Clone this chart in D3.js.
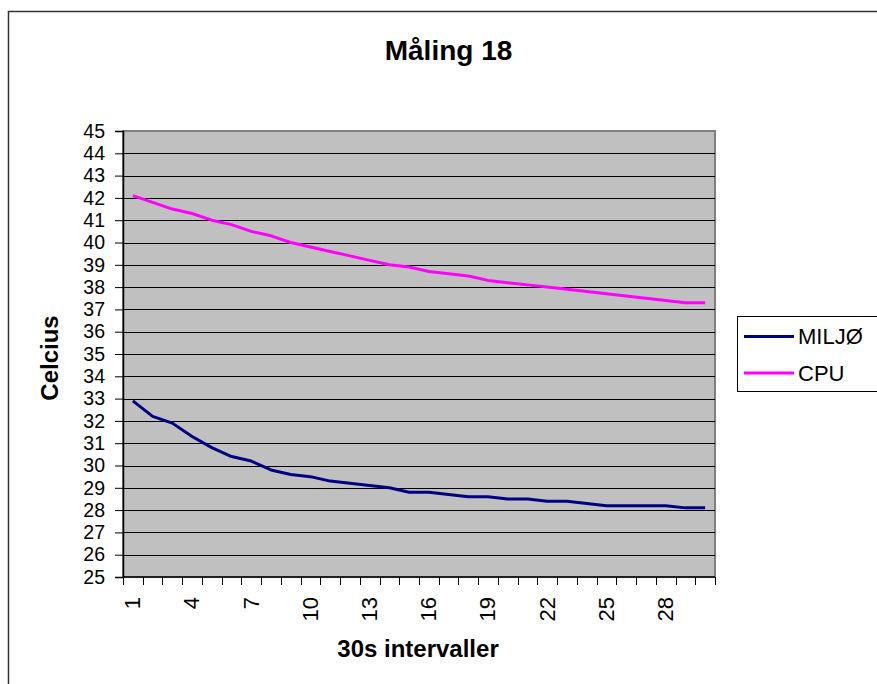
<!DOCTYPE html>
<html>
<head>
<meta charset="utf-8">
<script src="https://cdn.jsdelivr.net/npm/d3@7"></script>
<style>
  html, body { margin: 0; padding: 0; background: #fff; }
  svg { display: block; font-family: Arial, "Liberation Sans", sans-serif; }
</style>
</head>
<body>
<svg id="chart" width="877" height="684"></svg>
<script>
const categories = d3.range(1, 31);
const tickLabels = [1, 4, 7, 10, 13, 16, 19, 22, 25, 28];
const yTicks = d3.range(25, 46);
const miljo = [32.9, 32.2, 31.9, 31.3, 30.8, 30.4, 30.2, 29.8, 29.6, 29.5,
               29.3, 29.2, 29.1, 29.0, 28.8, 28.8, 28.7, 28.6, 28.6, 28.5,
               28.5, 28.4, 28.4, 28.3, 28.2, 28.2, 28.2, 28.2, 28.1, 28.1];
const cpu = [42.1, 41.8, 41.5, 41.3, 41.0, 40.8, 40.5, 40.3, 40.0, 39.8,
             39.6, 39.4, 39.2, 39.0, 38.9, 38.7, 38.6, 38.5, 38.3, 38.2,
             38.1, 38.0, 37.9, 37.8, 37.7, 37.6, 37.5, 37.4, 37.3, 37.3];
const seriesNames = ["MILJØ", "CPU"];
const seriesColors = ["#000080", "#FF00FF"];

const svg = d3.select("#chart");
const L = 123, R = 715, T = 131, B = 577;

// outer border
svg.append("rect").attr("x", 8.5).attr("y", 11.5).attr("width", 900).attr("height", 700)
  .attr("fill", "#fff").attr("stroke", "#333").attr("stroke-width", 1.5);

const x = d3.scaleBand().domain(categories).range([L, R]).paddingInner(0).paddingOuter(0);
const y = d3.scaleLinear().domain([25, 45]).range([B, T]);

// plot area
svg.append("rect").attr("x", L).attr("y", T).attr("width", R - L).attr("height", B - T)
  .attr("fill", "#C0C0C0").attr("stroke", "#808080").attr("stroke-width", 2);

// gridlines
svg.append("g").selectAll("line").data(yTicks.filter(v => v > 25 && v < 45)).join("line")
  .attr("x1", L).attr("x2", R)
  .attr("y1", d => Math.round(y(d)) + 0.5).attr("y2", d => Math.round(y(d)) + 0.5)
  .attr("stroke", "#000").attr("stroke-width", 1);

// y axis
const yAxis = d3.axisLeft(y).tickValues(yTicks).tickSize(8).tickPadding(10).tickFormat(d3.format("d"));
const gy = svg.append("g").attr("transform", `translate(${L},0)`).call(yAxis);
gy.select(".domain").attr("stroke", "#000").attr("stroke-width", 1.5);
gy.selectAll(".tick line").attr("stroke", "#000");
gy.selectAll(".tick text").attr("font-size", 19.5).attr("fill", "#000")
  .attr("font-family", "Arial, 'Liberation Sans', sans-serif");

// x axis ticks at category boundaries
const boundaries = categories.map(c => x(c)).concat([R]);
svg.append("g").selectAll("line").data(boundaries).join("line")
  .attr("x1", d => Math.round(d) + 0.5).attr("x2", d => Math.round(d) + 0.5)
  .attr("y1", B).attr("y2", B + 8).attr("stroke", "#000");
svg.append("line").attr("x1", L).attr("x2", R).attr("y1", B).attr("y2", B)
  .attr("stroke", "#000").attr("stroke-width", 1.5);

// x tick labels
svg.append("g").selectAll("text").data(tickLabels).join("text")
  .attr("transform", d => `translate(${x(d) + x.bandwidth() / 2},597) rotate(-90)`)
  .attr("text-anchor", "end").attr("dy", "0.33em")
  .attr("font-size", 22).attr("fill", "#000").text(d => d);

// lines
const line = d3.line().x((d, i) => x(categories[i]) + x.bandwidth() / 2).y(d => y(d));
[miljo, cpu].forEach((s, i) => {
  svg.append("path").datum(s).attr("d", line).attr("fill", "none")
    .attr("stroke", seriesColors[i]).attr("stroke-width", 3).attr("stroke-linejoin", "round");
});

// title
svg.append("text").attr("x", 448.5).attr("y", 60).attr("text-anchor", "middle")
  .attr("font-size", 28).attr("font-weight", "bold").text("Måling 18");

// axis titles
svg.append("text").attr("transform", "translate(58,358) rotate(-90)").attr("text-anchor", "middle")
  .attr("font-size", 24).attr("font-weight", "bold").text("Celcius");
svg.append("text").attr("x", 418).attr("y", 657).attr("text-anchor", "middle")
  .attr("font-size", 24).attr("font-weight", "bold").text("30s intervaller");

// legend
const lg = svg.append("g");
lg.append("rect").attr("x", 737.5).attr("y", 316.5).attr("width", 200).attr("height", 75)
  .attr("fill", "#fff").attr("stroke", "#000").attr("stroke-width", 1);
seriesNames.forEach((n, i) => {
  const cy = 336.5 + i * 36.5;
  lg.append("line").attr("x1", 744).attr("x2", 794).attr("y1", cy).attr("y2", cy)
    .attr("stroke", seriesColors[i]).attr("stroke-width", 3);
  lg.append("text").attr("x", 798).attr("y", cy).attr("dy", "0.35em")
    .attr("font-size", 22).attr("fill", "#000").text(n);
});
</script>
</body>
</html>
